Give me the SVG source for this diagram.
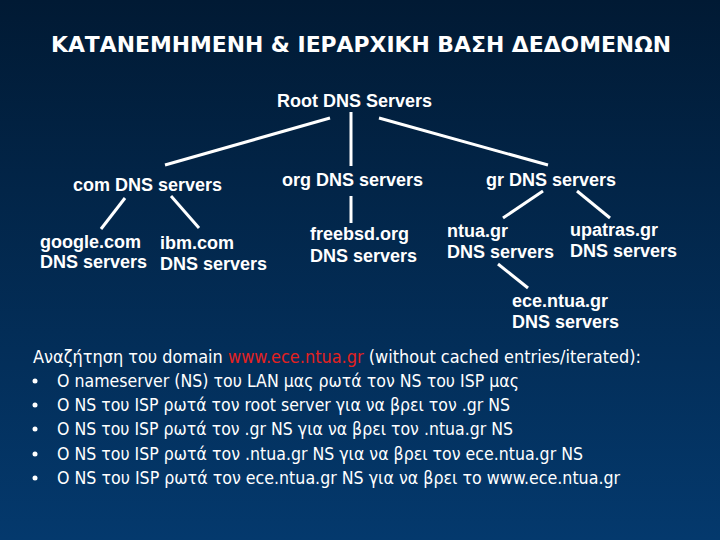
<svg xmlns="http://www.w3.org/2000/svg" width="720" height="540" viewBox="0 0 720 540">
<defs>
<linearGradient id="bg" x1="0" y1="0" x2="0" y2="1">
<stop offset="0" stop-color="#011a34"/>
<stop offset="1" stop-color="#04396d"/>
</linearGradient>
</defs>
<style>
.n{font-family:"Liberation Sans",Arial,sans-serif;font-weight:bold;font-size:18px;fill:#fff}
.t{font-family:"DejaVu Sans Condensed","DejaVu Sans",sans-serif;font-weight:bold;font-size:21px;fill:#fff}
.b{font-family:"DejaVu Sans Condensed","DejaVu Sans",sans-serif;font-size:18px;fill:#fff}
.r{fill:#e3211f}
.c line{stroke:#fff;stroke-width:3}
</style>
<rect width="720" height="540" fill="url(#bg)"/>
<text class="t" x="51" y="52" textLength="620" lengthAdjust="spacingAndGlyphs">ΚΑΤΑΝΕΜΗΜΕΝΗ &amp; ΙΕΡΑΡΧΙΚΗ ΒΑΣΗ ΔΕΔΟΜΕΝΩΝ</text>
<g class="c" id="connectors">
<line x1="330" y1="118" x2="165" y2="165"/>
<line x1="351" y1="112" x2="351" y2="166"/>
<line x1="379" y1="118" x2="548" y2="165"/>
<line x1="125" y1="198" x2="101" y2="229"/>
<line x1="171" y1="196" x2="199" y2="228"/>
<line x1="351" y1="196" x2="351" y2="223"/>
<line x1="543" y1="191" x2="503" y2="218"/>
<line x1="577" y1="191" x2="610" y2="218"/>
<line x1="498" y1="264" x2="528" y2="288"/>
</g>
<g id="root"><text class="n" x="277" y="107">Root DNS Servers</text></g>
<g id="com"><text class="n" x="73" y="191">com DNS servers</text></g>
<g id="org"><text class="n" x="282" y="186">org DNS servers</text></g>
<g id="gr"><text class="n" x="486" y="186">gr DNS servers</text></g>
<g id="google"><text class="n" x="40" y="248">google.com</text><text class="n" x="40" y="268">DNS servers</text></g>
<g id="ibm"><text class="n" x="160" y="249">ibm.com</text><text class="n" x="160" y="270">DNS servers</text></g>
<g id="freebsd"><text class="n" x="310" y="240">freebsd.org</text><text class="n" x="310" y="262">DNS servers</text></g>
<g id="ntua"><text class="n" x="447" y="237">ntua.gr</text><text class="n" x="447" y="258">DNS servers</text></g>
<g id="upatras"><text class="n" x="570" y="236">upatras.gr</text><text class="n" x="570" y="257">DNS servers</text></g>
<g id="ece"><text class="n" x="512" y="307">ece.ntua.gr</text><text class="n" x="512" y="328">DNS servers</text></g>
<g id="notes">
<text class="b" x="33" y="363" textLength="608" lengthAdjust="spacingAndGlyphs">Αναζήτηση του domain <tspan class="r">www.ece.ntua.gr</tspan> (without cached entries/iterated):</text>
<g fill="#fff">
<circle cx="35" cy="381" r="2.5"/>
<circle cx="35" cy="405" r="2.5"/>
<circle cx="35" cy="429" r="2.5"/>
<circle cx="35" cy="454" r="2.5"/>
<circle cx="35" cy="478" r="2.5"/>
</g>
<text class="b" x="57" y="387" textLength="462" lengthAdjust="spacingAndGlyphs">Ο nameserver (NS) του LAN μας ρωτά τον NS του ISP μας</text>
<text class="b" x="57" y="411" textLength="453" lengthAdjust="spacingAndGlyphs">Ο NS του ISP ρωτά τον root server για να βρει τον .gr NS</text>
<text class="b" x="57" y="435" textLength="456" lengthAdjust="spacingAndGlyphs">Ο NS του ISP ρωτά τον .gr NS για να βρει τον .ntua.gr NS</text>
<text class="b" x="57" y="460" textLength="526" lengthAdjust="spacingAndGlyphs">Ο NS του ISP ρωτά τον .ntua.gr NS για να βρει τον ece.ntua.gr NS</text>
<text class="b" x="57" y="484" textLength="563" lengthAdjust="spacingAndGlyphs">Ο NS του ISP ρωτά τον ece.ntua.gr NS για να βρει το www.ece.ntua.gr</text>
</g>
</svg>
